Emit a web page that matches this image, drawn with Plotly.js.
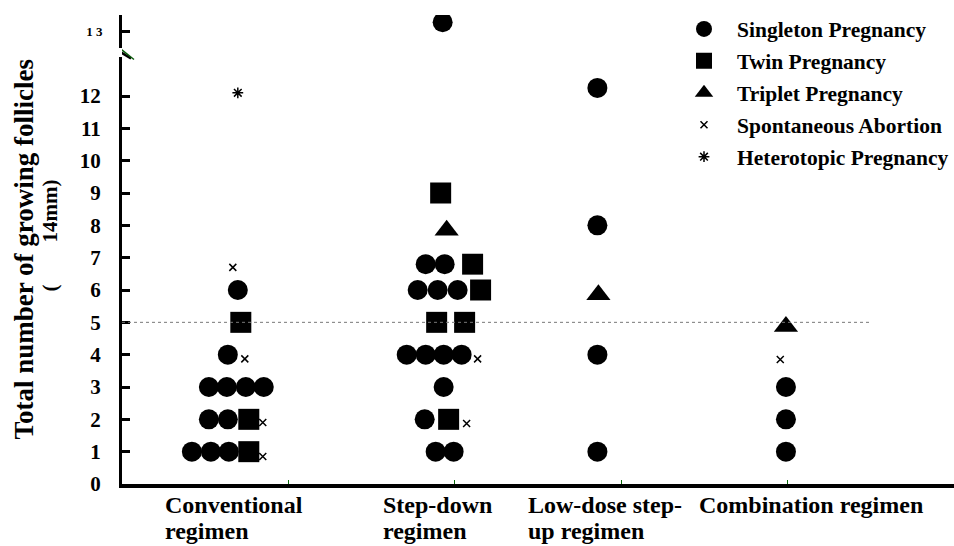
<!DOCTYPE html>
<html>
<head>
<meta charset="utf-8">
<script src="https://cdn.plot.ly/plotly-3.0.1.min.js"></script>
<style>html,body{margin:0;padding:0;background:#fff;}#chart{width:954px;height:546px;}</style>
</head>
<body>
<div id="chart"></div>
<script>
// ---- data ----
const categoryLine1 = ['Conventional', 'Step-down', 'Low-dose step-', 'Combination regimen'];
const categoryLine2 = ['regimen', 'regimen', 'up regimen', ''];
const yTickVals = [0,1,2,3,4,5,6,7,8,9,10,11,12];
const yTickText = ['0','1','2','3','4','5','6','7','8','9','10','11','12'];
const upperTickVals = [13];
const upperTickText = ['1 3'];
const referenceLine = 5;

// x = position along the category axis (0..5), y = total number of growing follicles
const singletonX = [0.696, 0.636, 0.522, 0.630, 0.744, 0.852, 0.522, 0.636, 0.420, 0.534, 0.642,
                    1.825, 1.939, 1.777, 1.897, 2.017, 1.711, 1.825, 1.933, 2.041, 1.933, 1.819, 1.885, 1.993,
                    2.857, 2.857, 2.857, 2.857,
                    3.990, 3.990, 3.990];
const singletonY = [6, 4, 3, 3, 3, 3, 2, 2, 1, 1, 1,
                    6.8, 6.8, 6, 6, 6, 4, 4, 4, 4, 3, 2, 1, 1,
                    12.25, 8, 4, 1,
                    3, 2, 1];
const singletonTopX = [1.927];
const singletonTopY = [13.25];
const twinX = [0.714, 0.762, 0.762, 1.915, 2.107, 2.155, 1.891, 2.059, 1.963];
const twinY = [5, 2, 1, 9, 6.8, 6, 5, 5, 2];
const tripletX = [1.951, 2.863, 3.990];
const tripletY = [7.85, 5.85, 4.87];
const abortionX = [0.666, 0.738, 0.846, 0.846, 2.137, 2.071, 3.956];
const abortionY = [6.7, 3.87, 1.9, 0.85, 3.87, 1.87, 3.85];
const heteroX = [0.696];
const heteroY = [12.1];

// ---- styling ----
const serif = 'Liberation Serif, Times New Roman, serif';
const mk = (x, y, name, marker, extra) => Object.assign({
  type: 'scatter', mode: 'markers', x: x, y: y, name: name, marker: marker,
  legendgroup: name, hoverinfo: 'x+y'
}, extra || {});

const traces = [
  mk(singletonX, singletonY, 'Singleton Pregnancy', {symbol: 'circle', size: 20, color: '#000'}),
  mk(twinX, twinY, 'Twin Pregnancy', {symbol: 'square', size: 21, color: '#000'}),
  mk(tripletX, tripletY, 'Triplet Pregnancy', {symbol: 'triangle-up', size: 21, color: '#000'}),
  mk(abortionX, abortionY, 'Spontaneous Abortion', {symbol: 'x-thin-open', size: 7, color: '#000', line: {width: 1.5, color: '#000'}}),
  mk(heteroX, heteroY, 'Heterotopic Pregnancy', {symbol: 'asterisk-open', size: 9, color: '#000', line: {width: 1.5, color: '#000'}}),
  mk(singletonTopX, singletonTopY, 'Singleton Pregnancy', {symbol: 'circle', size: 20, color: '#000'}, {yaxis: 'y2', showlegend: false})
];

const catPos = [0.245, 1.555, 2.425, 3.457];
const catFont = {family: serif, size: 24, color: '#000', weight: 'bold'};
const annotations = [];
categoryLine1.forEach((c, i) => {
  annotations.push({text: c, x: catPos[i], xref: 'x', y: 0, yref: 'paper', yshift: -21,
    xanchor: 'left', yanchor: 'middle', showarrow: false, font: catFont});
  if (categoryLine2[i]) annotations.push({text: categoryLine2[i], x: catPos[i], xref: 'x', y: 0, yref: 'paper', yshift: -47,
    xanchor: 'left', yanchor: 'middle', showarrow: false, font: catFont});
});
annotations.push({
  text: 'Total number of growing follicles',
  x: 0, xref: 'paper', xshift: -99, y: 0.5, yref: 'paper',
  xanchor: 'center', yanchor: 'middle', textangle: -90, showarrow: false,
  font: {family: serif, size: 27, color: '#000', weight: 'bold'}
});
annotations.push({
  text: '(\u00a0\u00a0\u00a0\u00a0\u00a0\u00a0\u00a0\u00a014mm)',
  x: 0, xref: 'paper', xshift: -72, y: 0.53, yref: 'paper',
  xanchor: 'center', yanchor: 'middle', textangle: -90, showarrow: false,
  font: {family: serif, size: 21, color: '#000', weight: 'bold'}
});

const shapes = [
  {type: 'line', xref: 'x', yref: 'y', x0: 0, x1: 4.49, y0: referenceLine, y1: referenceLine,
   line: {color: '#777', width: 1, dash: 'dot'}},
  // axis break marks
  {type: 'line', xref: 'x', xsizemode: 'pixel', xanchor: 0, x0: -9, x1: 9,
   yref: 'paper', ysizemode: 'pixel', yanchor: 0.92, y0: 5, y1: -6, line: {color: '#000', width: 2.5}},
  {type: 'line', xref: 'x', xsizemode: 'pixel', xanchor: 0, x0: -3, x1: 12,
   yref: 'paper', ysizemode: 'pixel', yanchor: 0.92, y0: 5, y1: -7, line: {color: '#0a5a0a', width: 1.5}}
];

const layout = {
  width: 954, height: 546,
  margin: {l: 122, r: 0, t: 15, b: 62},
  paper_bgcolor: '#fff', plot_bgcolor: '#fff',
  showlegend: true,
  legend: {x: 0.66, y: 1.014, xanchor: 'left', yanchor: 'top', traceorder: 'grouped',
           tracegroupgap: 1, itemwidth: 56, bgcolor: 'rgba(0,0,0,0)',
           font: {family: serif, size: 21.5, color: '#000', weight: 'bold'}},
  xaxis: {range: [0, 5], showline: true, linewidth: 4, linecolor: '#000', mirror: false,
          ticks: 'inside', tickvals: [0,1,2,3,4,5], ticklen: 4, tickwidth: 1, tickcolor: '#0a6a0a',
          showticklabels: false, showgrid: false, zeroline: false, fixedrange: true},
  yaxis: {domain: [0, 0.91], range: [0, 13.2], showline: true, linewidth: 3, linecolor: '#000',
          ticks: 'inside', ticklen: 8, tickwidth: 3, tickcolor: '#000',
          tickvals: yTickVals, ticktext: yTickText, ticklabelstandoff: 14,
          tickfont: {family: serif, size: 21, color: '#000', weight: 'bold'},
          showgrid: false, zeroline: false, fixedrange: true},
  yaxis2: {domain: [0.93, 1], range: [12.55, 13.45], anchor: 'x', showline: true, linewidth: 3, linecolor: '#000',
           ticks: 'inside', ticklen: 8, tickwidth: 3, tickcolor: '#000',
           tickvals: upperTickVals, ticktext: upperTickText, ticklabelstandoff: 14,
           tickfont: {family: serif, size: 13, color: '#000', weight: 'bold'},
           showgrid: false, zeroline: false, fixedrange: true},
  annotations: annotations,
  shapes: shapes
};

Plotly.newPlot('chart', traces, layout, {displayModeBar: false, staticPlot: true});
</script>
</body>
</html>
